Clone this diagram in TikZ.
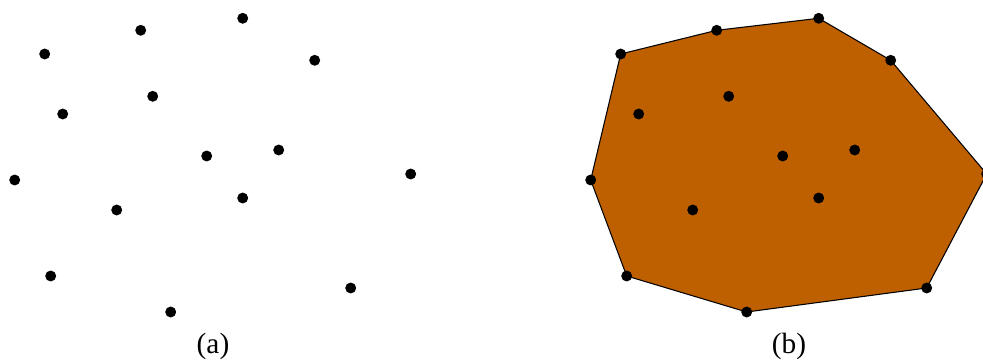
\documentclass[tikz,border=0pt]{standalone}
\usepackage{fontspec}
\setmainfont{Liberation Serif}
\definecolor{hullfill}{RGB}{191,96,0}
\begin{document}
\begin{tikzpicture}[x=0.75pt,y=-0.75pt,
  pt/.style={circle,fill=black,inner sep=0pt,minimum size=8.2pt},
  lbl/.style={font=\fontsize{22}{26}\selectfont,anchor=base,inner sep=0pt}]
\useasboundingbox (0,0) rectangle (983,363);
\clip (0,0) rectangle (983,363);
% (a)
\foreach \n/\x/\y in {1/140.7/30.3,2/242.7/18.3,3/44.7/54,4/314.7/60.3,5/152.7/96.3,6/62.7/114,7/206.7/156,8/278.7/150,9/14.7/180,10/410.7/174,11/116.7/210,12/242.7/198,13/50.7/276,14/350.7/288,15/170.7/312}{
  \coordinate (a\n) at (\x,\y);
  \coordinate (b\n) at (\x+576,\y);
}
\fill[hullfill] (b3) -- (b1) -- (b2) -- (b4) -- (b10) -- (b14) -- (b15) -- (b13) -- (b9) -- cycle;
\draw[line width=0.8pt,line join=round] (b3) -- (b1) -- (b2) -- (b4) -- (b10) -- (b14) -- (b15) -- (b13) -- (b9) -- cycle;
\foreach \n in {1,...,15}{
  \node[pt] (pa\n) at (a\n) {};
  \node[pt] (pb\n) at (b\n) {};
}
\node[lbl] (la) at (213,354) {(a)};
\node[lbl] (lb) at (789,354) {(b)};
\end{tikzpicture}
\end{document}
